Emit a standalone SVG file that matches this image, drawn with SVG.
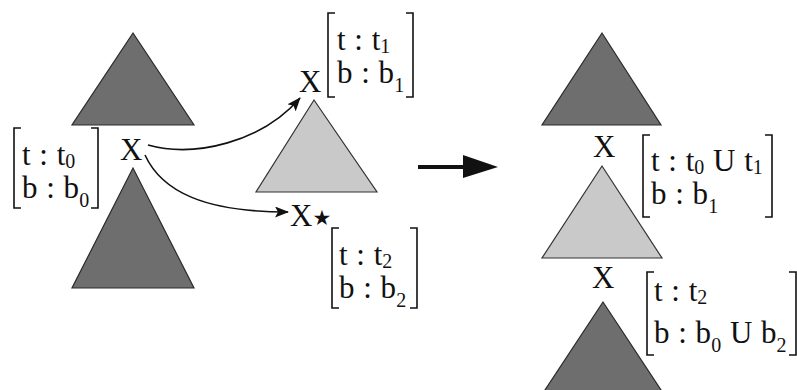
<svg xmlns="http://www.w3.org/2000/svg" width="797" height="390" viewBox="0 0 797 390">
<style>
.dark{fill:#6e6e6e;stroke:#2a2a2a;stroke-width:1.2}
.light{fill:#c9c9c9;stroke:#333;stroke-width:1.2}
.tx{font-family:"Liberation Serif","Times New Roman",serif;font-size:31px;fill:#111;word-spacing:1px}
.sub{font-size:20px}
.br{fill:none;stroke:#111;stroke-width:1.6}
.conn{fill:none;stroke:#111;stroke-width:1.6}
</style>
<defs>
<marker id="ah" viewBox="0 0 14 11" refX="13" refY="5.5" markerWidth="14" markerHeight="11" markerUnits="userSpaceOnUse" orient="auto">
<path d="M0,0 L14,5.5 L0,11 L3,5.5 Z" fill="#111"/>
</marker>
</defs>
<rect width="797" height="390" fill="#fff"/>

<g id="left-top-tree"><polygon class="dark" points="133,33 72,125 194,125"/></g>
<g id="left-bottom-tree"><polygon class="dark" points="133,168 72,288 194,288"/></g>
<g id="left-node">
<text class="tx" x="120" y="160">X</text>
<path class="br" d="M21,128 H14 V208 H21 M91,128 H98 V208 H91"/>
<text class="tx" x="22" y="165">t : t<tspan class="sub" dy="3">0</tspan></text>
<text class="tx" x="22" y="198">b : b<tspan class="sub" dy="9">0</tspan></text>
</g>

<g id="middle-tree"><polygon class="light" points="314,100 256,192 377,192"/></g>
<g id="middle-top-node">
<text class="tx" x="299" y="92">X</text>
<path class="br" d="M335,13 H328 V97 H335 M406,13 H413 V97 H406"/>
<text class="tx" x="337" y="50">t : t<tspan class="sub" dy="3">1</tspan></text>
<text class="tx" x="337" y="83">b : b<tspan class="sub" dy="9">1</tspan></text>
</g>
<g id="middle-bottom-node">
<text class="tx" x="290" y="226">X<tspan style="font-family:'DejaVu Sans',sans-serif;font-size:21px" dy="-1">★</tspan></text>
<path class="br" d="M339,228 H332 V308 H339 M410,228 H417 V308 H410"/>
<text class="tx" x="339" y="265">t : t<tspan class="sub" dy="3">2</tspan></text>
<text class="tx" x="339" y="298">b : b<tspan class="sub" dy="9">2</tspan></text>
</g>

<g id="connectors">
<path class="conn" marker-end="url(#ah)" d="M148,145 C195,158 262,142 300,98"/>
<path class="conn" marker-end="url(#ah)" d="M145,155 C162,192 205,212 288,212"/>
<path d="M418,165 H463 V155 L498,167 L463,178 V169 H418 Z" fill="#111"/>
</g>

<g id="right-top-tree"><polygon class="dark" points="602,33 542,125 661,125"/></g>
<g id="right-middle-tree"><polygon class="light" points="602,166 542,258 662,258"/></g>
<g id="right-bottom-tree"><polygon class="dark" points="603,302 541,396 665,396"/></g>
<g id="right-top-node">
<text class="tx" x="593" y="157">X</text>
<path class="br" d="M650,135 H643 V217 H650 M765,135 H772 V217 H765"/>
<text class="tx" x="651" y="171">t : t<tspan class="sub" dy="3">0</tspan><tspan dy="-3"> U t</tspan><tspan class="sub" dy="3">1</tspan></text>
<text class="tx" x="651" y="204">b : b<tspan class="sub" dy="9">1</tspan></text>
</g>
<g id="right-bottom-node">
<text class="tx" x="592" y="288">X</text>
<path class="br" d="M654,272 H647 V355 H654 M789,272 H796 V355 H789"/>
<text class="tx" x="654" y="301">t : t<tspan class="sub" dy="3">2</tspan></text>
<text class="tx" x="654" y="343">b : b<tspan class="sub" dy="9">0</tspan><tspan dy="-9"> U b</tspan><tspan class="sub" dy="9">2</tspan></text>
</g>
</svg>
